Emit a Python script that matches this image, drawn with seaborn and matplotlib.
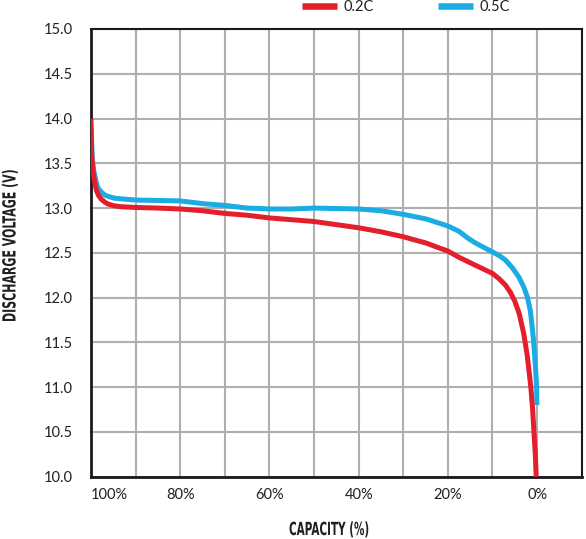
import matplotlib
import numpy as np
import pandas as pd

matplotlib.use("Agg")
import matplotlib.pyplot as plt
import seaborn as sns
from matplotlib import patheffects
from matplotlib.ticker import FormatStrFormatter
from matplotlib.transforms import Affine2D

# 0.2C discharge curve (capacity %, voltage V)
CAP_02 = [100, 99.9, 99.7, 99.5, 99.2, 98.8, 98.3, 97.7, 97.0, 96.2, 94.8, 93.2,
          90.0, 85.0, 80.0, 75.0, 70.0, 65.0, 60.0, 55.0, 50.0, 45.0, 40.0, 35.0,
          30.0, 27.5, 24.9, 22.5, 20.0, 17.5, 15.0, 12.5, 10.0, 8.5, 7.1, 6.0,
          5.0, 4.0, 3.0, 2.2, 1.4, 1.0, 0.7, 0.4, 0.2]
VOLT_02 = [14.0, 13.65, 13.5, 13.39, 13.3, 13.20, 13.14, 13.10, 13.07, 13.045, 13.025, 13.015,
           13.007, 13.0, 12.99, 12.97, 12.94, 12.92, 12.89, 12.87, 12.85, 12.815, 12.78, 12.735,
           12.68, 12.645, 12.61, 12.565, 12.52, 12.45, 12.39, 12.33, 12.27, 12.21, 12.14, 12.06,
           11.96, 11.82, 11.6, 11.35, 11.0, 10.75, 10.5, 10.25, 10.0]

# 0.5C discharge curve
CAP_05 = [100, 99.7, 99.4, 99.1, 98.8, 98.4, 97.7, 96.9, 95.8, 94.7, 92.5, 90.0,
          85.0, 80.0, 75.0, 70.0, 65.0, 62.0, 60.0, 55.0, 50.0, 45.0, 40.0, 35.0,
          30.0, 27.5, 25.0, 22.5, 20.0, 17.5, 15.4, 13.8, 12.3, 10.0, 8.5, 7.1,
          5.5, 4.1, 3.0, 2.2, 1.5, 1.1, 0.75, 0.4, 0.1, 0.05]
VOLT_05 = [13.9, 13.55, 13.42, 13.35, 13.28, 13.22, 13.18, 13.145, 13.125, 13.11, 13.1, 13.09,
           13.085, 13.08, 13.05, 13.03, 13.0, 12.995, 12.99, 12.99, 13.0, 12.995, 12.99, 12.97,
           12.93, 12.905, 12.88, 12.84, 12.80, 12.74, 12.66, 12.61, 12.57, 12.51, 12.47, 12.42,
           12.33, 12.23, 12.12, 12.01, 11.85, 11.67, 11.5, 11.25, 11.0, 10.8]

SERIES = ["0.2C", "0.5C"]
COLORS = {"0.2C": "#E41E2B", "0.5C": "#1AACE3"}

X_LABELS = ["100%", "80%", "60%", "40%", "20%", "0%"]
X_MAJOR = [100, 80, 60, 40, 20, 0]
X_MINOR = [90, 70, 50, 30, 10]
Y_TICKS = np.arange(10.0, 15.01, 0.5)

TEXT_COLOR = "#231F20"
GRID_COLOR = "#AFAFAF"


class Condense(patheffects.AbstractPathEffect):
    """Squeeze glyphs along the text direction (no condensed bold font installed)."""

    def __init__(self, factor: float) -> None:
        super().__init__()
        self.factor = factor

    def draw_path(self, renderer, gc, tpath, affine, rgbFace=None):
        renderer.draw_path(gc, tpath, Affine2D().scale(self.factor, 1.0) + affine, rgbFace)


def build_frame() -> pd.DataFrame:
    parts = [
        pd.DataFrame({"capacity": CAP_02, "voltage": VOLT_02, "rate": "0.2C"}),
        pd.DataFrame({"capacity": CAP_05, "voltage": VOLT_05, "rate": "0.5C"}),
    ]
    return pd.concat(parts, ignore_index=True)


def axis_title(fig, x_px, y_px, label, target_px, rotation=0):
    text = fig.text(x_px / 586, 1 - y_px / 539, label, rotation=rotation,
                    rotation_mode="anchor", ha="left", va="baseline",
                    family="DejaVu Sans", fontweight="bold", fontsize=13, color=TEXT_COLOR)
    fig.canvas.draw()
    bbox = text.get_window_extent()
    length = bbox.height if rotation else bbox.width
    text.set_path_effects([Condense(target_px / length)])
    return text


def main() -> None:
    sns.set_theme(style="white")
    plt.rcParams["font.family"] = ["Lato", "DejaVu Sans"]

    df = build_frame()

    fig = plt.figure(figsize=(5.86, 5.39), dpi=100)
    ax = fig.add_axes([91 / 586, 1 - 476.7 / 539, (581.7 - 91) / 586, (476.7 - 29) / 539])

    sns.lineplot(
        data=df,
        x="capacity",
        y="voltage",
        hue="rate",
        hue_order=SERIES,
        palette=COLORS,
        sort=False,
        estimator=None,
        linewidth=3.6,
        ax=ax,
    )
    for line in ax.lines:
        line.set_solid_joinstyle("round")
        line.set_solid_capstyle("butt")
    ax.lines[0].set_zorder(4)
    ax.lines[1].set_zorder(3)

    ax.set_xlim(100, -10)
    ax.set_ylim(10, 15)
    ax.set_xticks(X_MAJOR)
    ax.set_xticklabels(X_LABELS)
    ax.set_xticks(X_MINOR, minor=True)
    ax.set_yticks(Y_TICKS)
    ax.yaxis.set_major_formatter(FormatStrFormatter("%.1f"))
    ax.xaxis.get_majorticklabels()[0].set_horizontalalignment("left")

    ax.grid(True, which="both", color=GRID_COLOR, linewidth=1.5)
    ax.set_axisbelow(True)
    ax.tick_params(axis="both", which="both", length=0, labelsize=10.5, labelcolor=TEXT_COLOR)
    ax.tick_params(axis="y", pad=13)
    ax.tick_params(axis="x", pad=8)

    for side, spine in ax.spines.items():
        spine.set_visible(True)
        spine.set_color("#1A1A1A")
        spine.set_linewidth(2.0 if side in ("left", "bottom") else 1.5)

    ax.set_xlabel("")
    ax.set_ylabel("")

    handles, labels = ax.get_legend_handles_labels()
    leg = ax.legend(
        handles,
        labels,
        ncol=2,
        frameon=False,
        loc="center",
        bbox_to_anchor=((406 - 91) / (581.7 - 91), 1 + (29 - 7) / (476.7 - 29)),
        fontsize=10.5,
        handlelength=2.4,
        handletextpad=0.45,
        columnspacing=4.4,
        borderaxespad=0,
    )
    for text in leg.get_texts():
        text.set_color(TEXT_COLOR)
    for line in leg.get_lines():
        line.set_linewidth(4.7)

    axis_title(fig, 15.5, 322, "DISCHARGE VOLTAGE (V)", 152, rotation=90)
    axis_title(fig, 289, 535, "CAPACITY (%)", 80)

    fig.savefig("out.png", dpi=100, facecolor="white")
    plt.close(fig)


if __name__ == "__main__":
    main()
